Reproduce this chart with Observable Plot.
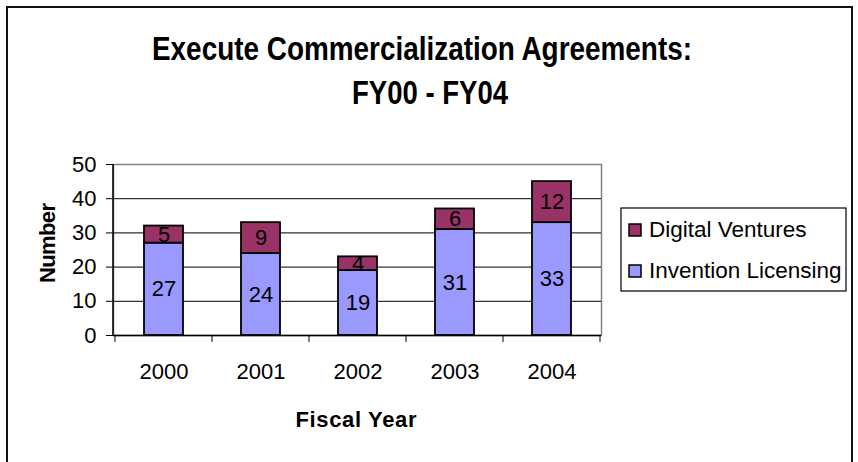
<!DOCTYPE html>
<html><head><meta charset="utf-8">
<script src="https://cdn.jsdelivr.net/npm/d3@7"></script>
<script src="https://cdn.jsdelivr.net/npm/@observablehq/plot@0.6"></script>
<style>
body{margin:0;background:#fff;}
#wrap{position:relative;width:858px;height:462px;overflow:hidden;background:#fff;}
#wrap svg{position:absolute;left:0;top:0;}
</style>
</head><body>
<div id="wrap"></div>
<script>
// ---- data ----
const years = ["2000", "2001", "2002", "2003", "2004"];
const seriesNames = ["Invention Licensing", "Digital Ventures"];
const seriesColors = ["#9999FF", "#993366"];
const inventionLicensing = [27, 24, 19, 31, 33];
const digitalVentures = [5, 9, 4, 6, 12];
const yTicks = [0, 10, 20, 30, 40, 50];
const titleLines = ["Execute Commercialization Agreements:", "FY00 - FY04"];
const xTitle = "Fiscal Year";
const yTitle = "Number";

const rows = [];
years.forEach((yr, i) => rows.push({year: yr, series: seriesNames[0], value: inventionLicensing[i]}));
years.forEach((yr, i) => rows.push({year: yr, series: seriesNames[1], value: digitalVentures[i]}));

const FONT = "'Liberation Sans', Arial, sans-serif";

const plot = Plot.plot({
  width: 858,
  height: 462,
  marginLeft: 113,
  marginRight: 257,
  marginTop: 164,
  marginBottom: 127,
  style: {fontFamily: FONT, fontSize: "22px", background: "transparent", color: "#000"},
  x: {domain: years, paddingInner: 0.6, paddingOuter: 0.3, label: null},
  y: {domain: [0, 50], label: null},
  color: {domain: seriesNames, range: seriesColors},
  marks: [
    Plot.frame({stroke: "#808080", strokeWidth: 1.5}),
    Plot.ruleY(yTicks.slice(1, -1), {stroke: "#000", strokeWidth: 1}),
    Plot.barY(rows, {x: "year", y: "value", fill: "series", stroke: "#000", strokeWidth: 1.8}),
    Plot.text(rows, Plot.stackY({x: "year", y: "value", z: "series", text: d => String(d.value), fontSize: 22, fill: "#000"})),
    Plot.ruleY([0], {stroke: "#000", strokeWidth: 1.5}),
    Plot.axisY({ticks: yTicks, tickSize: 7, tickPadding: 10, label: null, fontSize: 22}),
    Plot.axisX({tickSize: 0, tickPadding: 28, label: null, fontSize: 22})
  ]
});
const wrap = document.getElementById("wrap");
wrap.append(plot);

const xs = plot.scale("x"), ys = plot.scale("y");
const step = xs.step, bw = xs.bandwidth;
const y0 = ys.apply(0), yTop = ys.apply(50);

const svg = d3.create("svg").attr("width", 858).attr("height", 462)
  .style("font-family", FONT).style("pointer-events", "none");

// outer chart border
svg.append("rect").attr("x", 7).attr("y", 7).attr("width", 845).attr("height", 520)
  .attr("fill", "none").attr("stroke", "#111").attr("stroke-width", 2);

// left axis line
svg.append("line").attr("x1", xs.range[0]).attr("x2", xs.range[0])
  .attr("y1", yTop).attr("y2", y0).attr("stroke", "#000").attr("stroke-width", 1.5);

// category boundary ticks
const bounds = years.map(yr => xs.apply(yr) - (step - bw) / 2);
bounds.push(xs.apply(years[years.length - 1]) + bw + (step - bw) / 2);
bounds.forEach(bx => {
  svg.append("line").attr("x1", bx).attr("x2", bx).attr("y1", y0).attr("y2", y0 + 7)
    .attr("stroke", "#000").attr("stroke-width", 1);
});

// title
svg.append("text").attr("x", 422).attr("y", 60).attr("text-anchor", "middle")
  .attr("font-weight", "bold").attr("font-size", 33)
  .attr("textLength", 540).attr("lengthAdjust", "spacingAndGlyphs").text(titleLines[0]);
svg.append("text").attr("x", 430).attr("y", 104).attr("text-anchor", "middle")
  .attr("font-weight", "bold").attr("font-size", 33)
  .attr("textLength", 156).attr("lengthAdjust", "spacingAndGlyphs").text(titleLines[1]);

// axis titles
svg.append("text").attr("x", 356).attr("y", 427).attr("text-anchor", "middle")
  .attr("font-weight", "bold").attr("font-size", 22)
  .attr("textLength", 121).attr("lengthAdjust", "spacing").text(xTitle);
svg.append("text").attr("transform", "translate(55,243) rotate(-90)").attr("text-anchor", "middle")
  .attr("font-weight", "bold").attr("font-size", 22)
  .attr("textLength", 80).attr("lengthAdjust", "spacing").text(yTitle);

// legend
svg.append("rect").attr("x", 621).attr("y", 208).attr("width", 225).attr("height", 83)
  .attr("fill", "#fff").attr("stroke", "#000").attr("stroke-width", 1.2);
const legendOrder = [1, 0];
legendOrder.forEach((si, k) => {
  const by = 237 + k * 41;
  svg.append("rect").attr("x", 629).attr("y", by - 13).attr("width", 12).attr("height", 12)
    .attr("fill", seriesColors[si]).attr("stroke", "#000").attr("stroke-width", 1.5);
  svg.append("text").attr("x", 649).attr("y", by).attr("font-size", 22.5).text(seriesNames[si]);
});

wrap.append(svg.node());
</script>
</body></html>
